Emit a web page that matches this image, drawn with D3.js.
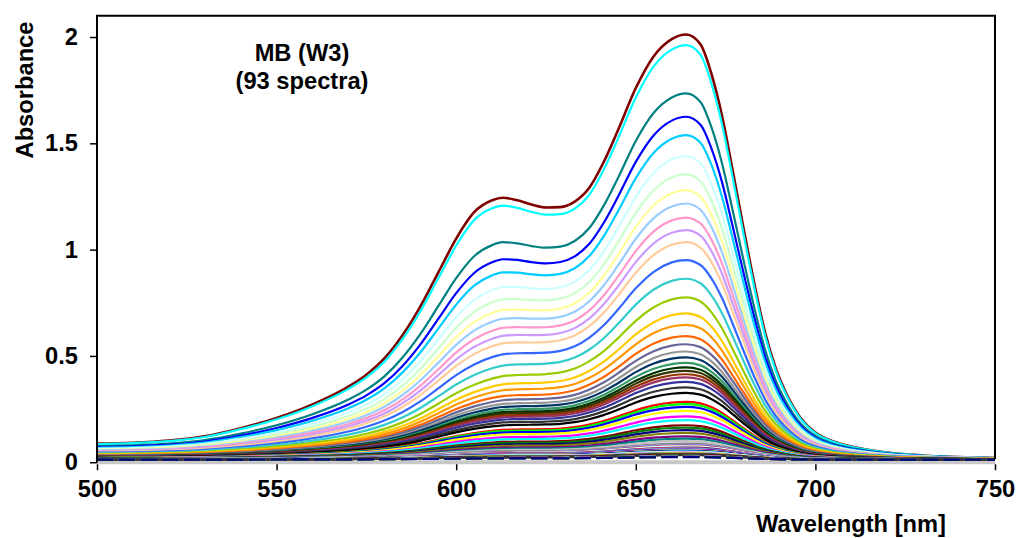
<!DOCTYPE html>
<html>
<head>
<meta charset="utf-8">
<script src="https://cdn.jsdelivr.net/npm/d3@7"></script>
<style>
  body { margin: 0; background: #fff; }
  text { font-family: "Liberation Sans", Arial, sans-serif; font-weight: bold; fill: #000; }
</style>
</head>
<body>
<svg id="chart" width="1017" height="538"></svg>
<script>
// wavelength grid [nm]
const wavelengths = [500, 510, 520, 530, 540, 550, 560, 570, 575, 580,
  585, 590, 595, 600, 605, 610, 613, 617, 621, 625,
  629, 633, 637, 641, 645, 650, 655, 660, 664, 668,
  671, 674, 677, 680, 683, 686, 689, 692, 696, 700,
  705, 710, 715, 720, 730, 740, 750];

// normalised band shape of the strongest spectrum
const profileHigh = [0.038, 0.040, 0.045, 0.055, 0.074, 0.098, 0.13, 0.172, 0.2, 0.238,
  0.292, 0.36, 0.44, 0.52, 0.582, 0.61, 0.616, 0.61, 0.60, 0.593,
  0.594, 0.607, 0.639, 0.699, 0.774, 0.874, 0.949, 0.989, 1.0, 0.977,
  0.909, 0.809, 0.679, 0.544, 0.414, 0.299, 0.214, 0.154, 0.097, 0.064,
  0.043, 0.031, 0.023, 0.017, 0.01, 0.006, 0.004];

// normalised band shape of the weaker spectra (flatter shoulder at 610 nm)
const profileLow = [0.035, 0.037, 0.041, 0.049, 0.062, 0.08, 0.104, 0.137, 0.16, 0.19,
  0.23, 0.282, 0.345, 0.41, 0.462, 0.5, 0.515, 0.522, 0.524, 0.528,
  0.538, 0.562, 0.606, 0.668, 0.748, 0.856, 0.94, 0.988, 1, 0.975,
  0.91, 0.81, 0.68, 0.545, 0.415, 0.302, 0.218, 0.158, 0.1, 0.067,
  0.045, 0.033, 0.025, 0.019, 0.012, 0.008, 0.006];

// absorbance at 664 nm of each of the 93 spectra
const peakAbs = [2.012, 1.962, 1.735, 1.625, 1.539, 1.44, 1.355, 1.28, 1.217, 1.151,
  1.092, 1.035, 0.951, 0.863, 0.775, 0.70, 0.646, 0.593, 0.555, 0.521,
  0.493, 0.467, 0.446, 0.43, 0.414, 0.399, 0.378, 0.352,
  0.326, 0.284, 0.273, 0.26, 0.242, 0.216, 0.198, 0.174, 0.163, 0.151,
  0.138, 0.122, 0.111, 0.10, 0.088,
  0.082, 0.078, 0.075, 0.072, 0.069, 0.066, 0.064, 0.062, 0.06, 0.058,
  0.056, 0.055, 0.054, 0.053, 0.052, 0.051, 0.05, 0.049, 0.048, 0.047,
  0.046, 0.045, 0.044, 0.043, 0.042, 0.041, 0.041, 0.04, 0.04, 0.039,
  0.039, 0.038, 0.038, 0.037, 0.037, 0.036, 0.036, 0.035, 0.035, 0.034,
  0.033, 0.032, 0.031, 0.030, 0.029, 0.028, 0.027, 0.026, 0.025, 0.024];

const baseline = 0.012;
const dashedCount = 10;   // last spectra are drawn dashed

const xTicks = [500, 550, 600, 650, 700, 750];
const yTicks = [0, 0.5, 1, 1.5, 2];

// excel-like palette groups
const topColors = ['#800000', '#00FFFF', '#008080', '#0000FF'];
const pal33 = ['#00CCFF', '#CCFFFF', '#CCFFCC', '#FFFF99', '#99CCFF', '#FF99CC', '#CC99FF', '#FFCC99',
  '#3366FF', '#33CCCC', '#99CC00', '#FFCC00', '#FF9900', '#FF6600', '#666699', '#969696',
  '#003366', '#339966', '#003300', '#333300', '#993300', '#993366', '#333399', '#333333'];
const pal1 = ['#000000', '#FF0000', '#00FF00', '#0000FF', '#FFFF00', '#FF00FF', '#00FFFF', '#800000',
  '#008000', '#000080', '#808000', '#800080', '#008080', '#C0C0C0', '#808080'];
const pal17 = ['#9999FF', '#993366', '#FFFFCC', '#CCFFFF', '#660066', '#FF8080', '#0066CC', '#CCCCFF'];
const pal25 = ['#000080', '#FF00FF', '#FFFF00', '#00FFFF', '#800080', '#800000', '#008080', '#0000FF'];
const colors = [].concat(topColors, pal33, pal1, pal17, pal25, pal33, pal1);

const svg = d3.select('#chart'),
      margin = { top: 15.75, right: 22, bottom: 75.75, left: 97 },
      width = +svg.attr('width') - margin.left - margin.right,
      height = +svg.attr('height') - margin.top - margin.bottom;

const g = svg.append('g')
    .attr('transform', `translate(${margin.left},${margin.top})`);

const x = d3.scaleLinear().domain([500, 750]).range([0, width]);
const y = d3.scaleLinear().domain([0, 2.1]).range([height, 0]);

const spectra = peakAbs.map((p, i) => {
  const w = Math.max(0, Math.min(1, (p - 0.8) / 1.2));
  return {
    i,
    dashed: i >= peakAbs.length - dashedCount,
    values: wavelengths.map((wl, k) => ({
      wl,
      a: baseline + (p - baseline) * (w * profileHigh[k] + (1 - w) * profileLow[k])
    }))
  };
});

const line = d3.line()
    .x(d => x(d.wl))
    .y(d => y(d.a))
    .curve(d3.curveMonotoneX);

g.append('defs').append('clipPath').attr('id', 'clip')
  .append('rect').attr('width', width).attr('height', height + 2);

// x axis (grey excel-style line at A = 0)
g.append('line')
  .attr('x1', 0).attr('x2', width)
  .attr('y1', y(0)).attr('y2', y(0))
  .attr('stroke', '#c8c8c8').attr('stroke-width', 4);

g.append('g')
  .attr('clip-path', 'url(#clip)')
  .selectAll('.spectrum')
  .data(spectra)
  .enter().append('path')
    .attr('class', 'spectrum')
    .attr('d', d => line(d.values))
    .attr('fill', 'none')
    .attr('stroke', d => colors[d.i % colors.length])
    .attr('stroke-width', d => d.i === 0 ? 2.6 : 2.2)
    .attr('stroke-dasharray', d => d.dashed ? '16.5,5.2' : null);

// frame: left axis, top and right borders
g.append('path')
  .attr('d', `M0,${height}V0H${width}V${height - 3}`)
  .attr('fill', 'none')
  .attr('stroke', '#000')
  .attr('stroke-width', 2);

const xAxis = g.append('g')
  .attr('transform', `translate(0,${height + 2})`)
  .call(d3.axisBottom(x).tickValues(xTicks).tickSize(6).tickPadding(10).tickFormat(d3.format('d')));
xAxis.select('.domain').remove();
xAxis.selectAll('text').style('font-size', '23.7px');
xAxis.selectAll('line').attr('stroke', '#000').attr('stroke-width', 1.5);

const yAxis = g.append('g')
  .call(d3.axisLeft(y).tickValues(yTicks).tickSize(7).tickPadding(12).tickFormat(d3.format('')));
yAxis.select('.domain').remove();
yAxis.selectAll('text').style('font-size', '23.7px');
yAxis.selectAll('line').attr('stroke', '#000').attr('stroke-width', 1.5);

svg.append('text')
  .attr('transform', 'rotate(-90)')
  .attr('x', -90)
  .attr('y', 33)
  .attr('text-anchor', 'middle')
  .style('font-size', '23.7px')
  .text('Absorbance');

svg.append('text')
  .attr('x', 851)
  .attr('y', 532)
  .attr('text-anchor', 'middle')
  .style('font-size', '23.7px')
  .text('Wavelength [nm]');

svg.append('text')
  .attr('x', 302).attr('y', 61)
  .attr('text-anchor', 'middle')
  .style('font-size', '23.7px')
  .text('MB (W3)');

svg.append('text')
  .attr('x', 302).attr('y', 89)
  .attr('text-anchor', 'middle')
  .style('font-size', '23.7px')
  .text('(93 spectra)');
</script>
</body>
</html>
